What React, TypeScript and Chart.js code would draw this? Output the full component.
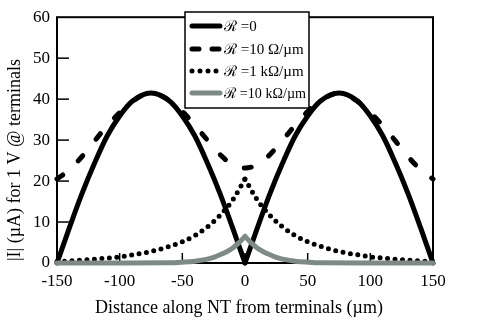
import React, { useEffect, useRef } from "react";
import { Chart, registerables } from "chart.js";

Chart.register(...registerables);

// ---- data ----
const xArchLeft = [-150, -140, -130, -120, -110, -100, -90, -75, -60, -50, -40, -30, -20, -10, 0];
const xArchRight = [0, 10, 20, 30, 40, 50, 60, 75, 90, 100, 110, 120, 130, 140, 150];
const r0Left = [0, 8.7, 17.0, 24.4, 31.0, 35.9, 39.5, 41.5, 39.5, 35.9, 31.0, 24.4, 17.0, 8.7, 0];
const r0Right = [0, 8.7, 17.0, 24.4, 31.0, 35.9, 39.5, 41.5, 39.5, 35.9, 31.0, 24.4, 17.0, 8.7, 0];

const xDashed = [-150, -140, -130, -120, -110, -100, -90, -75, -60, -50, -40, -30, -20, -10, 0,
  10, 20, 30, 40, 50, 60, 75, 90, 100, 110, 120, 130, 140, 150];
const r10 = [20.5, 22.8, 26.0, 29.8, 33.5, 36.7, 39.4, 41.5, 39.6, 37.0, 33.6, 30.0, 26.5, 24.0, 23.2,
  24.0, 26.5, 30.0, 33.6, 37.0, 39.6, 41.5, 39.4, 36.7, 33.5, 29.8, 26.0, 22.8, 20.5];

const xLeft = [-150, -140, -130, -120, -110, -100, -90, -80, -70, -60, -50, -40, -30, -20, -10, 0];
const xRight = [0, 10, 20, 30, 40, 50, 60, 70, 80, 90, 100, 110, 120, 130, 140, 150];
const r1kLeft = [0.3, 0.5, 0.7, 0.9, 1.2, 1.5, 2.0, 2.5, 3.2, 4.1, 5.2, 6.7, 8.8, 11.6, 15.3, 20.5];
const r1kRight = [20.5, 15.3, 11.6, 8.8, 6.7, 5.2, 4.1, 3.2, 2.5, 2.0, 1.5, 1.2, 0.9, 0.7, 0.5, 0.3];

const x10kLeft = [-150, -100, -60, -50, -40, -30, -25, -20, -15, -10, -5, 0];
const r10kLeft = [0, 0, 0.05, 0.2, 0.45, 0.95, 1.4, 2.0, 2.7, 3.6, 4.9, 6.5];
const x10kRight = [0, 5, 10, 15, 20, 25, 30, 40, 50, 60, 100, 150];
const r10kRight = [6.5, 4.9, 3.6, 2.7, 2.0, 1.4, 0.95, 0.45, 0.2, 0.05, 0, 0];

const seriesLabels = ["\u211B =0", "\u211B =10 \u03A9/\u00B5m", "\u211B =1 k\u03A9/\u00B5m", "\u211B =10 k\u03A9/\u00B5m"];
const xTitle = "Distance along NT from terminals (\u00B5m)";
const yTitle = "|I| (\u00B5A) for 1 V @ terminals";
const yInnerTicks = [10, 20, 30, 40, 50];
const xInnerTicks = [-100, -50, 0, 50, 100];

const SERIF = '"Liberation Serif", "DejaVu Serif", serif';
const GRAY = "#7d8a88";

const pts = (xs: number[], ys: number[]) => xs.map((x, i) => ({ x, y: ys[i] }));

const styles = [
  { color: "#000", width: 5, dash: [] as number[], cap: "round", legendDash: [] as number[] },
  { color: "#000", width: 5, dash: [7, 21], cap: "round", legendDash: [7, 13] },
  { color: "#000", width: 5, dash: [0, 7.5], cap: "round", legendDash: [0, 8] },
  { color: GRAY, width: 5, dash: [] as number[], cap: "round", legendDash: [] as number[] },
];

const chartPlugin = {
  id: "custom",
  beforeDatasetsDraw(chart: any) {
    const { ctx, chartArea, scales } = chart;
    const { left, top, right, bottom } = chartArea;
    ctx.save();
    ctx.strokeStyle = "#000";
    ctx.lineWidth = 2;
    ctx.strokeRect(left, top, right - left, bottom - top);
    ctx.lineWidth = 1.5;
    yInnerTicks.forEach((v) => {
      const py = scales.y.getPixelForValue(v);
      ctx.beginPath();
      ctx.moveTo(left, py);
      ctx.lineTo(left + 12, py);
      ctx.stroke();
    });
    xInnerTicks.forEach((v) => {
      const px = scales.x.getPixelForValue(v);
      ctx.beginPath();
      ctx.moveTo(px, bottom);
      ctx.lineTo(px, bottom - 10);
      ctx.stroke();
    });
    ctx.restore();
  },
  afterDraw(chart: any) {
    const { ctx } = chart;
    ctx.save();
    // axis titles
    ctx.fillStyle = "#000";
    ctx.font = `18px ${SERIF}`;
    ctx.textAlign = "center";
    ctx.textBaseline = "middle";
    ctx.fillText(xTitle, 239, 308);
    ctx.save();
    ctx.translate(15, 160);
    ctx.rotate(-Math.PI / 2);
    ctx.fillText(yTitle, 0, 0);
    ctx.restore();

    // legend
    const bx = 185, by = 12, bw = 124, bh = 96;
    ctx.fillStyle = "#fff";
    ctx.fillRect(bx, by, bw, bh);
    ctx.strokeStyle = "#000";
    ctx.lineWidth = 1.5;
    ctx.strokeRect(bx, by, bw, bh);
    const rows = [26, 49, 71, 93];
    seriesLabels.forEach((label, i) => {
      const s = styles[i];
      const y = rows[i];
      ctx.save();
      ctx.strokeStyle = s.color;
      ctx.lineWidth = s.width;
      ctx.lineCap = s.cap;
      ctx.setLineDash(s.legendDash);
      ctx.beginPath();
      ctx.moveTo(192, y);
      ctx.lineTo(i === 2 ? 218 : 220, y);
      ctx.stroke();
      ctx.restore();
      ctx.fillStyle = "#000";
      ctx.font = `15px ${SERIF}`;
      ctx.textAlign = "left";
      ctx.textBaseline = "middle";
      ctx.fillText(label, 224, y + 1, 82);
    });
    ctx.restore();
  },
};

function ds(label: string, data: any[], idx: number, order: number) {
  const s = styles[idx];
  return {
    label,
    data,
    borderColor: s.color,
    backgroundColor: s.color,
    borderWidth: s.width,
    borderDash: s.dash,
    borderCapStyle: s.cap,
    borderJoinStyle: "round",
    pointRadius: 0,
    fill: false,
    cubicInterpolationMode: "monotone",
    clip: false,
    order,
  };
}

export default function App() {
  const ref = useRef<HTMLCanvasElement>(null);
  useEffect(() => {
    if (!ref.current) return;
    const chart = new Chart(ref.current, {
      type: "line",
      data: {
        datasets: [
          ds(seriesLabels[3], pts(x10kLeft, r10kLeft), 3, 0),
          ds(seriesLabels[3], pts(x10kRight, r10kRight), 3, 0),
          ds(seriesLabels[0], pts(xArchLeft, r0Left), 0, 1),
          ds(seriesLabels[0], pts(xArchRight, r0Right), 0, 1),
          ds(seriesLabels[1], pts(xDashed, r10), 1, 2),
          ds(seriesLabels[2], pts(xLeft, r1kLeft), 2, 3),
          ds(seriesLabels[2], pts(xRight, r1kRight), 2, 3),
        ] as any,
      },
      options: {
        animation: false,
        responsive: false,
        devicePixelRatio: 1,
        layout: { padding: { left: 0, top: 14, right: 52, bottom: 0 } },
        plugins: { legend: { display: false }, tooltip: { enabled: false } },
        scales: {
          x: {
            type: "linear",
            min: -150,
            max: 150,
            grid: { display: false, drawTicks: false },
            border: { display: false },
            ticks: {
              stepSize: 50,
              padding: 8,
              color: "#000",
              font: { family: SERIF, size: 17 },
              maxRotation: 0,
            },
            afterFit: (s: any) => { s.height = 60; },
          },
          y: {
            type: "linear",
            min: 0,
            max: 60,
            grid: { display: false, drawTicks: false },
            border: { display: false },
            ticks: {
              stepSize: 10,
              padding: 7,
              color: "#000",
              font: { family: SERIF, size: 17 },
            },
            afterFit: (s: any) => { s.width = 57; },
          },
        },
      } as any,
      plugins: [chartPlugin],
    });
    return () => chart.destroy();
  }, []);
  return (
    <div style={{ position: "absolute", left: 0, top: 0, width: 485, height: 323, background: "#fff" }}>
      <canvas ref={ref} width={485} height={323} style={{ width: 485, height: 323 }} />
    </div>
  );
}
